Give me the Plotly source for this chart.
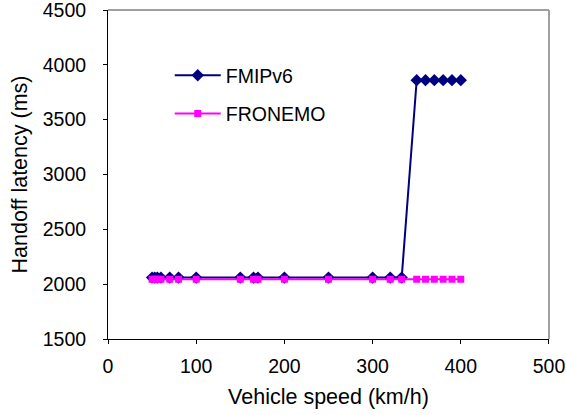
import plotly.graph_objects as go

# Vehicle speeds (km/h) sampled in the simulation
speed = [50, 53, 56, 60, 70, 80, 100, 150, 165, 170, 200, 250, 300, 320, 333,
         350, 360, 370, 380, 390, 400]

# Handoff latency (ms) for each scheme
fmipv6 = [2060, 2060, 2060, 2060, 2060, 2060, 2060, 2060, 2060, 2060, 2060,
          2060, 2060, 2060, 2060, 3860, 3860, 3860, 3860, 3860, 3860]
fronemo = [2045, 2045, 2045, 2045, 2045, 2045, 2045, 2045, 2045, 2045, 2045,
           2045, 2045, 2045, 2045, 2045, 2045, 2045, 2045, 2045, 2045]

x_ticks = [0, 100, 200, 300, 400, 500]
y_ticks = [1500, 2000, 2500, 3000, 3500, 4000, 4500]

FONT = "Liberation Sans, Arial, sans-serif"

fig = go.Figure()
fig.add_trace(go.Scatter(
    x=speed, y=fmipv6, name="FMIPv6", mode="lines+markers",
    line=dict(color="#000080", width=2),
    marker=dict(symbol="diamond", size=9.5, color="#000080"),
    legendgroup="a",
))
fig.add_trace(go.Scatter(
    x=speed, y=fronemo, name="FRONEMO", mode="lines+markers",
    line=dict(color="#ff00ff", width=2),
    marker=dict(symbol="square", size=7, color="#ff00ff"),
    legendgroup="b",
))

axis_common = dict(
    showgrid=False, zeroline=False, showline=True, linecolor="#000000",
    linewidth=1, ticks="outside", ticklen=4, tickcolor="#000000",
    tickfont=dict(family=FONT, size=19.5, color="#000000"),
    automargin=False, ticklabeloverflow="allow",
)

fig.update_layout(
    width=566, height=415,
    margin=dict(l=108, r=17, t=10, b=76),
    paper_bgcolor="white", plot_bgcolor="white",
    font=dict(family=FONT, color="#000000"),
    xaxis=dict(range=[0, 500.01], tickvals=x_ticks, ticklabelstandoff=6,
               title=dict(text="Vehicle speed (km/h)",
                          font=dict(family=FONT, size=21.5), standoff=12),
               **axis_common),
    yaxis=dict(range=[1500, 4500.01], tickvals=y_ticks, ticklabelstandoff=13,
               title=dict(text="Handoff latency (ms)",
                          font=dict(family=FONT, size=21.5), standoff=9),
               **axis_common),
    legend=dict(x=0.14, y=0.86, xanchor="left", yanchor="top",
                bgcolor="rgba(0,0,0,0)", tracegroupgap=10, itemwidth=46,
                font=dict(family=FONT, size=19.5, color="#000000")),
    showlegend=True,
)

# Grey frame along the top and right edges of the plot area
fig.add_shape(type="line", xref="paper", yref="paper", x0=0, x1=1, y0=1, y1=1,
              line=dict(color="#a0a0a0", width=2))
fig.add_shape(type="line", xref="paper", yref="paper", x0=1, x1=1, y0=0, y1=1,
              line=dict(color="#a0a0a0", width=2))

fig.write_html("out.html")
